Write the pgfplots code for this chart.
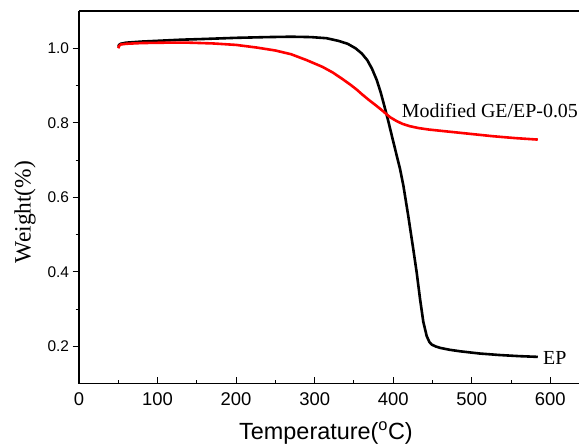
\documentclass[border=0pt]{standalone}
\usepackage{fontspec}
\setmainfont{Liberation Serif}
\setsansfont{Liberation Sans}
\usepackage{pgfplots}
\pgfplotsset{compat=1.18}

% TGA curves
\pgfplotstableread{
T W
50 1.004
51 1.009
53 1.012
60 1.015
80 1.018
100 1.020
130 1.023
160 1.025
200 1.028
240 1.030
270 1.031
295 1.030
315 1.027
330 1.020
342 1.012
352 1.000
360 0.986
367 0.968
373 0.945
379 0.915
384 0.882
389 0.843
394 0.802
400 0.750
404 0.716
408.7 0.676
412.9 0.632
419.3 0.548
425.6 0.460
429.9 0.398
434.1 0.328
438.3 0.266
442.6 0.228
446 0.212
449 0.205
454 0.200
460 0.196
472 0.191
485 0.187
510 0.181
535 0.177
560 0.174
584 0.172
}\ep

\pgfplotstableread{
T W
50 1.000
51 1.006
53 1.010
60 1.012
80 1.014
110 1.015
140 1.015
170 1.013
200 1.009
226 1.002
250 0.994
270 0.984
290 0.968
310 0.950
323 0.935
335 0.918
345 0.903
353 0.890
360 0.877
368 0.863
379 0.845
386 0.833
391.5 0.823
396 0.815
404 0.805
412 0.797
421 0.791
432 0.786
445 0.782
463 0.778
495 0.771
527 0.764
555 0.759
584 0.755
}\gep

\begin{document}
\begin{tikzpicture}
\begin{axis}[
  name=ax,
  scale only axis,
  width=500bp, height=372.7bp,
  xmin=0, xmax=636.5, ymin=0.1, ymax=1.1,
  axis x line*=bottom, axis y line*=left,
  axis line style={line width=1.2bp},
  xtick align=inside, ytick align=outside,
  xtick={0,100,...,600}, ytick={0.2,0.4,0.6,0.8,1.0},
  minor x tick num=1, minor y tick num=1,
  major tick length=6.5bp, minor tick length=3.5bp,
  every tick/.style={black, line width=1.1bp},
  /pgf/number format/assume math mode=true,
  yticklabel style={font=\sffamily\fontsize{15.5}{16}\selectfont,
    /pgf/number format/fixed, /pgf/number format/fixed zerofill,
    /pgf/number format/precision=1},
  xticklabel style={font=\sffamily\fontsize{18.5}{19}\selectfont, yshift=-5bp},
  xlabel={Temperature(\textsuperscript{o}C)},
  ylabel={Weight(\%)},
  xlabel style={font=\sffamily\fontsize{23.5}{24}\selectfont,
    at={(axis description cs:0.494,-0.151)}, anchor=base},
  ylabel style={font=\fontsize{23.5}{24}\selectfont,
    at={(axis description cs:-0.108,0.4607)}, anchor=center},
  clip=false,
]
  \addplot[black, line width=2.6bp, line join=round] table[x=T, y=W] {\ep};
  \addplot[red, line width=2.6bp, line join=round] table[x=T, y=W] {\gep};
  \draw[line width=1.2bp] (rel axis cs:0,1) -- (rel axis cs:1,1);
  \node[anchor=west, inner sep=0pt, font=\fontsize{20}{20}\selectfont]
    at (axis cs:410.8,0.834) {Modified GE/EP-0.05};
  \node[anchor=west, inner sep=0pt, font=\fontsize{20}{20}\selectfont]
    at (axis cs:590.7,0.168) {EP};
\end{axis}
\pgfresetboundingbox
\path ([xshift=-79bp,yshift=-61.3bp]ax.south west) rectangle ([yshift=11bp]ax.north east);
\end{tikzpicture}
\end{document}
